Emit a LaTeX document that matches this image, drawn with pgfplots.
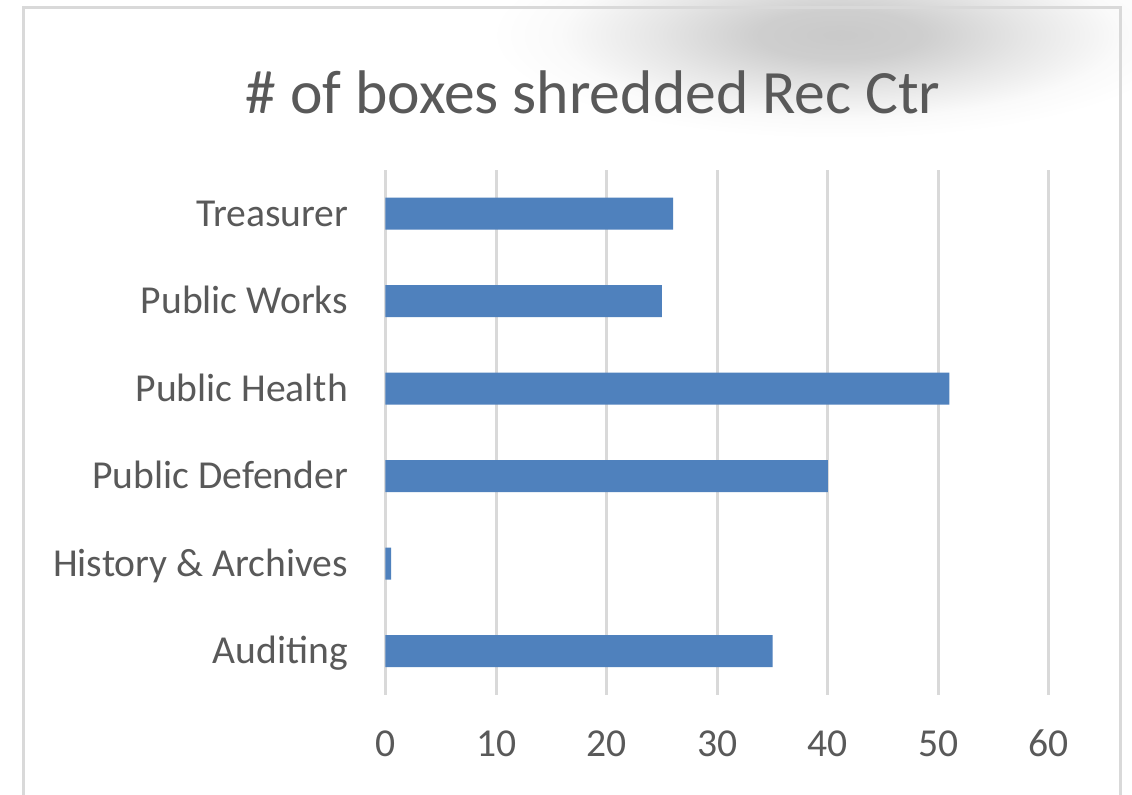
\documentclass[border=0pt]{standalone}
\usepackage{fontspec}
\setmainfont{Carlito}
\usepackage{pgfplots}
\pgfplotsset{compat=1.18}
\definecolor{barblue}{HTML}{4F81BD}
\definecolor{gridgray}{HTML}{D9D9D9}
\definecolor{txtgray}{HTML}{595959}
\pgfdeclareradialshading{shadowsh}{\pgfpoint{0bp}{0bp}}{color(0bp)=(black!21); color(6bp)=(black!19); color(13bp)=(black!10); color(20bp)=(black!2); color(25bp)=(white); color(50bp)=(white)}
\begin{document}
\begin{tikzpicture}
\useasboundingbox (0,0) rectangle (566pt,397.5pt);
\fill[white] (0,0) rectangle (566pt,397.5pt);
\begin{scope}
\clip (0,0) rectangle (566pt,397.5pt);
\shade[shading=shadowsh] (420pt,380pt) ellipse (175pt and 52pt);
\end{scope}
\draw[gridgray, line width=1.5pt] (11.5pt,-5pt) -- (11.5pt,393.75pt) -- (560pt,393.75pt) -- (560pt,-5pt);
\node[anchor=base, font=\fontsize{30.8pt}{36pt}\selectfont, text=txtgray, inner sep=0pt] at (296.5pt,340.5pt) {\# of boxes shredded Rec Ctr};
\begin{axis}[
 at={(192.75pt,50pt)}, anchor=south west,
 scale only axis, width=331.75pt, height=262.5pt,
 xbar, bar width=16pt,
 xmin=0, xmax=60, ymin=-0.5, ymax=5.5,
 xtick={0,10,...,60}, ytick={0,...,5},
 yticklabels={Auditing, History \& Archives, Public Defender, Public Health, Public Works, Treasurer},
 axis line style={draw=none}, major tick length=0pt,
 xmajorgrids, ymajorgrids=false,
 major grid style={gridgray, line width=1.5pt},
 tick label style={font=\fontsize{19.8pt}{24pt}\selectfont, text=txtgray},
 /pgf/number format/assume math mode=true,
 yticklabel style={inner sep=0pt, anchor=base east, xshift=-18.5pt, yshift=-6.3pt},
 xticklabel style={inner sep=0pt, anchor=base, yshift=-31pt},
 clip=false,
]
\addplot[fill=barblue, draw=none] coordinates {(35,0) (0.5,1) (40,2) (51,3) (25,4) (26,5)};
\end{axis}
\end{tikzpicture}
\end{document}
